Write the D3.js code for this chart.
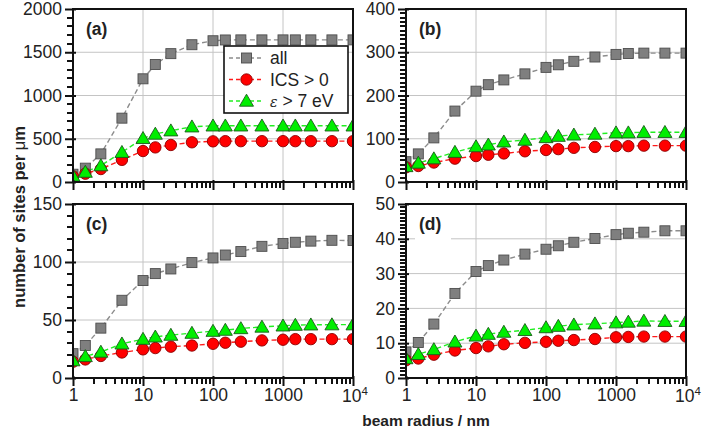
<!DOCTYPE html>
<html><head><meta charset="utf-8">
<script src="https://cdn.jsdelivr.net/npm/d3@7"></script>
<style>
html,body{margin:0;padding:0;background:#fff;}
svg{display:block;font-family:"Liberation Sans",Arial,sans-serif;}
</style></head>
<body><svg id="c" width="724" height="438"></svg>
<script>
// ---- data ----
const radii = [1, 1.5, 2.5, 5, 10, 15, 25, 50, 100, 150, 250, 500, 1000, 1500, 2500, 5000, 10000];
const xTickLabels = ["1", "10", "100", "1000", "10^4"];
const seriesNames = ["all", "ICS > 0", "ε > 7 eV"];

const allA = [90, 160, 325, 738, 1193, 1358, 1484, 1587, 1633, 1642, 1643, 1643, 1643, 1643, 1643, 1643, 1643];
const icsA = [65, 96, 150, 256, 358, 400, 428, 459, 470, 472, 472, 472, 472, 472, 472, 472, 472];
const epsA = [70, 115, 190, 344, 505, 555, 593, 639, 650, 650, 650, 650, 650, 650, 650, 650, 650];

const allB = [47, 65, 102, 164, 210, 225, 236, 250, 265, 271, 279, 289, 295, 297, 298, 298, 298];
const icsB = [34, 37, 45, 54, 60, 63, 66, 71, 74, 76, 79, 81, 83, 83, 84, 84, 84];
const epsB = [36, 44, 54, 69, 82, 86, 93, 97, 103, 106, 109, 111, 114, 114, 115, 115, 115];

const allC = [21, 28, 43, 67, 84, 90, 94, 99.5, 103.5, 106, 109, 113.5, 116, 117, 118, 118.7, 118.5];
const icsC = [14, 16, 19, 22, 24.7, 25.8, 27, 28, 29.5, 30.4, 31.3, 32.4, 33, 33.5, 33.5, 33.5, 33.5];
const epsC = [15, 18.6, 22.4, 29.5, 33.5, 35.5, 37, 38.7, 40.4, 41.3, 42.7, 44, 45, 45.6, 45.9, 46, 46];

const allD = [7.5, 10.2, 15.5, 24.3, 30.6, 32.3, 33.9, 35.6, 37, 38, 39, 40.1, 41.2, 41.6, 41.9, 42.3, 42.3];
const icsD = [5.1, 5.6, 6.7, 7.9, 8.6, 9.1, 9.7, 10.1, 10.4, 10.7, 10.9, 11.2, 11.7, 11.8, 11.9, 11.9, 11.9];
const epsD = [5.6, 6.8, 8.2, 10.4, 12.1, 12.6, 13.2, 13.7, 14.5, 14.9, 15.3, 15.6, 15.9, 16.1, 16.4, 16.3, 16.3];

const yTicksA = [0, 500, 1000, 1500, 2000];
const yTicksB = [0, 100, 200, 300, 400];
const yTicksC = [0, 50, 100, 150];
const yTicksD = [0, 10, 20, 30, 40, 50];

// ---- styles ----
const styles = [
  {line: "#8c8c8c", fill: "#7f7f7f", stroke: "#4d4d4d", shape: "square"},
  {line: "#ff1a1a", fill: "#ff0000", stroke: "#8a0000", shape: "circle"},
  {line: "#22ee22", fill: "#00ee00", stroke: "#1a5a1a", shape: "triangle"}
];

const svg = d3.select("#c");

const panels = [
  {id: "a", x0: 73, x1: 353, y0: 9, y1: 182, yMax: 2000, ticks: yTicksA, minor: 100, data: [allA, icsA, epsA], xl: false, legend: true},
  {id: "b", x0: 406, x1: 686, y0: 9, y1: 182, yMax: 400, ticks: yTicksB, minor: 10, data: [allB, icsB, epsB], xl: false},
  {id: "c", x0: 73, x1: 353, y0: 204, y1: 378, yMax: 150, ticks: yTicksC, minor: 10, data: [allC, icsC, epsC], xl: true},
  {id: "d", x0: 406, x1: 686, y0: 204, y1: 378, yMax: 50, ticks: yTicksD, minor: 1, data: [allD, icsD, epsD], xl: true}
];

function marker(sel, shape) {
  if (shape === "square") {
    sel.append("rect").attr("x", -5).attr("y", -5).attr("width", 10).attr("height", 10);
  } else if (shape === "circle") {
    sel.append("circle").attr("r", 5.7);
  } else {
    sel.append("path").attr("d", "M0,-6.8 L7,5.2 L-7,5.2 Z");
  }
}

const FONT = "Liberation Sans, Arial, sans-serif";
const TICK = "#111";

panels.forEach((p) => {
  const x = d3.scaleLog().domain([1, 10000]).range([p.x0, p.x1]);
  const y = d3.scaleLinear().domain([0, p.yMax]).range([p.y1, p.y0]);
  const g = svg.append("g");

  // grid
  const grid = g.append("g");
  [10, 100, 1000].forEach(v => grid.append("line")
    .attr("x1", x(v)).attr("x2", x(v)).attr("y1", p.y0).attr("y2", p.y1)
    .attr("stroke", "#c4c4c4").attr("stroke-width", 1));
  p.ticks.slice(1, -1).forEach(v => grid.append("line")
    .attr("x1", p.x0).attr("x2", p.x1).attr("y1", y(v)).attr("y2", y(v))
    .attr("stroke", "#c4c4c4").attr("stroke-width", 1));

  // white box behind panel label (as in reference)
  g.append("rect").attr("x", p.x0 + 9).attr("y", p.y0 + 10).attr("width", 36).attr("height", 28).attr("fill", "#fff");

  // clip
  const cid = "clip" + p.id;
  svg.append("clipPath").attr("id", cid).append("rect")
    .attr("x", p.x0).attr("y", p.y0).attr("width", p.x1 - p.x0).attr("height", p.y1 - p.y0);
  const plot = g.append("g").attr("clip-path", `url(#${cid})`);

  // series
  p.data.forEach((vals, si) => {
    const st = styles[si];
    const pts = radii.map((r, i) => [r, vals[i]]);
    plot.append("path").datum(pts)
      .attr("fill", "none").attr("stroke", st.line).attr("stroke-width", 1.4)
      .attr("stroke-dasharray", "5,3")
      .attr("d", d3.line().x(d => x(d[0])).y(d => y(d[1])));
  });
  p.data.forEach((vals, si) => {
    const st = styles[si];
    radii.forEach((r, i) => {
      const m = plot.append("g").attr("transform", `translate(${x(r)},${y(vals[i])})`)
        .attr("fill", st.fill).attr("stroke", st.stroke).attr("stroke-width", 0.9);
      marker(m, st.shape);
    });
  });

  // y minor ticks
  const minorVals = d3.range(p.minor, p.yMax, p.minor).filter(v => !p.ticks.some(t => Math.abs(t - v) < 1e-9));
  g.append("g").attr("shape-rendering", "crispEdges").selectAll("line").data(minorVals).join("line")
    .attr("x1", p.x0 - 6).attr("x2", p.x0).attr("y1", d => Math.round(y(d))).attr("y2", d => Math.round(y(d)))
    .attr("stroke", TICK).attr("stroke-width", 2);
  // y major axis
  const yMajor = g.append("g").attr("transform", `translate(${p.x0},0)`)
    .call(d3.axisLeft(y).tickValues(p.ticks).tickSize(7).tickPadding(4).tickFormat(d3.format("d")));
  yMajor.select(".domain").remove();
  yMajor.selectAll(".tick line").attr("x2", -8).attr("x1", 3).attr("stroke", TICK).attr("stroke-width", 2);
  yMajor.selectAll("text").attr("font-size", 17.5).attr("fill", "#222").attr("font-family", FONT);

  // x minor log ticks
  const xMinorVals = [];
  [1, 10, 100, 1000].forEach(d => { for (let k = 2; k <= 9; k++) xMinorVals.push(d * k); });
  g.append("g").attr("shape-rendering", "crispEdges").selectAll("line").data(xMinorVals).join("line")
    .attr("x1", d => Math.round(x(d))).attr("x2", d => Math.round(x(d))).attr("y1", p.y1).attr("y2", p.y1 + 6)
    .attr("stroke", TICK).attr("stroke-width", 2);
  const xMajor = g.append("g").attr("transform", `translate(0,${p.y1})`)
    .call(d3.axisBottom(x).tickValues([1, 10, 100, 1000, 10000]).tickSize(7).tickPadding(4)
      .tickFormat((d, i) => p.xl ? (i === 4 ? "" : xTickLabels[i]) : ""));
  xMajor.select(".domain").remove();
  xMajor.selectAll(".tick line").attr("y1", -2).attr("y2", 8).attr("stroke", TICK).attr("stroke-width", 2);
  xMajor.selectAll("text").attr("font-size", 17.5).attr("fill", "#222").attr("font-family", FONT);
  if (p.xl) {
    const t = g.append("text").attr("x", x(10000) + 2).attr("y", p.y1 + 24)
      .attr("text-anchor", "middle").attr("font-size", 17.5).attr("fill", "#222");
    t.append("tspan").text(xTickLabels[4].split("^")[0]);
    t.append("tspan").attr("dy", -7).attr("font-size", 11.5).text(xTickLabels[4].split("^")[1]);
  }

  // frame
  g.append("rect").attr("x", p.x0).attr("y", p.y0).attr("width", p.x1 - p.x0).attr("height", p.y1 - p.y0)
    .attr("fill", "none").attr("stroke", "#111").attr("stroke-width", 2);

  // panel label
  g.append("text").attr("x", p.x0 + 13).attr("y", p.y0 + 26)
    .attr("font-size", 17.5).attr("font-weight", "bold").attr("fill", "#222").text(`(${p.id})`);

  // legend
  if (p.legend) {
    const lg = g.append("g");
    lg.append("rect").attr("x", 224).attr("y", 46).attr("width", 124).attr("height", 67)
      .attr("fill", "#fff").attr("stroke", "#111").attr("stroke-width", 1.6);
    seriesNames.forEach((name, si) => {
      const st = styles[si];
      const yy = 58 + si * 21.5;
      lg.append("line").attr("x1", 229).attr("x2", 264).attr("y1", yy).attr("y2", yy)
        .attr("stroke", st.line).attr("stroke-width", 1.4).attr("stroke-dasharray", "4,3");
      const m = lg.append("g").attr("transform", `translate(246.5,${yy})`)
        .attr("fill", st.fill).attr("stroke", st.stroke).attr("stroke-width", 0.9);
      marker(m, st.shape);
      const t = lg.append("text").attr("x", 270).attr("y", yy + 6).attr("font-size", 17.5).attr("fill", "#222");
      if (si === 2) {
        t.append("tspan").attr("font-style", "italic").attr("font-family", "DejaVu Serif, serif").attr("font-size", 14).text(name.slice(0, 1));
        t.append("tspan").text(name.slice(1));
      } else {
        t.text(name);
      }
    });
  }
});

// axis titles
svg.append("text").attr("x", 426).attr("y", 426).attr("text-anchor", "middle")
  .attr("font-size", 15.5).attr("font-weight", "bold").attr("fill", "#222").text("beam radius / nm");
const yl = svg.append("text").attr("transform", "translate(25,217) rotate(-90)").attr("text-anchor", "middle")
  .attr("font-size", 16.5).attr("font-weight", "bold").attr("fill", "#222");
yl.append("tspan").text("number of sites per ");
yl.append("tspan").attr("font-weight", "normal").text("μ");
yl.append("tspan").text("m");
</script></body></html>
